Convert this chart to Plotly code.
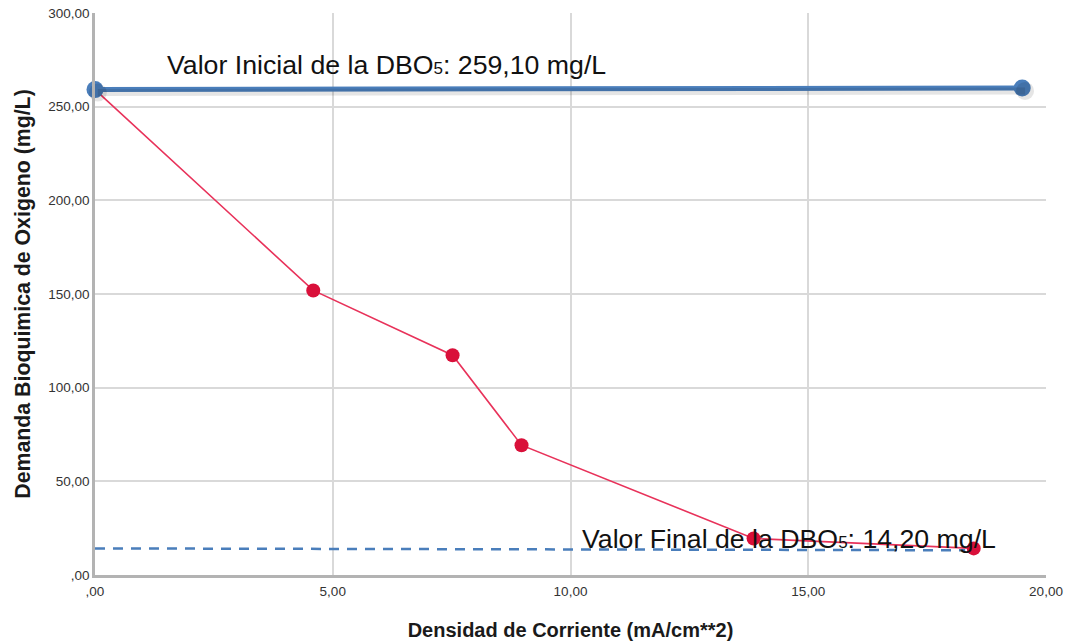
import plotly.graph_objects as go

# Current density (mA/cm**2) and measured BOD5 (mg/L)
densidad = [0.0, 4.59, 7.52, 8.97, 13.85, 18.48]
dbo5 = [259.1, 151.9, 117.3, 69.3, 19.5, 14.2]

# Reference lines: initial and final BOD5
inicial_x = [0.0, 19.5]
inicial_y = [259.1, 260.0]
final_x = [0.0, 18.3]
final_y = [14.2, 13.2]

x_ticks = [0, 5, 10, 15, 20]
x_tick_text = [",00", "5,00", "10,00", "15,00", "20,00"]
y_ticks = [0, 50, 100, 150, 200, 250, 300]
y_tick_text = [",00", "50,00", "100,00", "150,00", "200,00", "250,00", "300,00"]

AZUL = "#4a7ebb"
ROJO = "#d9103a"
FONT = "Liberation Sans, Arial, sans-serif"
SUB5 = '<span style="font-size:17px">5</span>'

fig = go.Figure()

fig.add_trace(go.Scatter(
    x=final_x, y=final_y, mode="lines",
    line=dict(color=AZUL, width=2.5, dash="10px,8px"),
    hoverinfo="skip", showlegend=False, cliponaxis=False,
))

fig.add_trace(go.Scatter(
    x=densidad, y=dbo5, mode="lines+markers",
    line=dict(color="#e8325a", width=1.6),
    marker=dict(color=ROJO, size=14),
    showlegend=False, cliponaxis=False,
))

# soft drop shadow under the initial-value line (drawn on shifted overlay axes)
fig.add_trace(go.Scatter(
    x=inicial_x, y=inicial_y, mode="lines+markers",
    line=dict(color="rgba(0,0,0,0.10)", width=7),
    marker=dict(color="rgba(0,0,0,0.10)", size=18),
    showlegend=False, cliponaxis=False, hoverinfo="skip",
    xaxis="x2", yaxis="y2",
))

fig.add_trace(go.Scatter(
    x=inicial_x, y=inicial_y, mode="lines+markers",
    line=dict(color=AZUL, width=5),
    marker=dict(color=AZUL, size=17),
    showlegend=False, cliponaxis=False,
))

fig.add_annotation(
    x=1.47, y=272, xref="x", yref="y", xanchor="left", yanchor="middle",
    text="Valor Inicial de la DBO" + SUB5 + ": 259,10 mg/L",
    showarrow=False, font=dict(family=FONT, size=26.7, color="#111111"),
)
fig.add_annotation(
    x=10.2, y=19, xref="x", yref="y", xanchor="left", yanchor="middle",
    text="Valor Final de la DBO" + SUB5 + ": 14,20 mg/L",
    showarrow=False, font=dict(family=FONT, size=26.7, color="#111111"),
)

fig.update_layout(
    width=1067, height=643,
    margin=dict(l=95, r=21, t=13, b=68),
    plot_bgcolor="white", paper_bgcolor="white",
    font=dict(family=FONT, color="#333333"),
    xaxis=dict(
        range=[0, 20], tickvals=x_ticks, ticktext=x_tick_text,
        tickfont=dict(size=13.5, color="#333333"),
        showgrid=True, gridcolor="#d9d9d9", gridwidth=1.5,
        showline=True, linecolor="#b3b3b3", linewidth=2.5,
        zeroline=False, ticks="", ticklabelstandoff=2,
        automargin=False,
        title=dict(text="<b>Densidad de Corriente (mA/cm**2)</b>",
                   font=dict(size=20, color="#1a1a1a"), standoff=26),
    ),
    yaxis=dict(
        range=[0, 300], tickvals=y_ticks, ticktext=y_tick_text,
        tickfont=dict(size=13.5, color="#333333"),
        showgrid=True, gridcolor="#d9d9d9", gridwidth=1.5,
        showline=True, linecolor="#b3b3b3", linewidth=2.5,
        zeroline=False, ticks="", ticklabelstandoff=0,
        automargin=False,
        title=dict(text="<b>Demanda Bioquimica de Oxigeno (mg/L)</b>",
                   font=dict(size=21.3, color="#1a1a1a"), standoff=12),
    ),
    # overlay axes for the shadow: same span, shifted a few pixels down-right
    xaxis2=dict(overlaying="x", range=[-0.06, 19.94], visible=False),
    yaxis2=dict(overlaying="y", range=[1.6, 301.6], visible=False),
)

fig.write_html("out.html")
